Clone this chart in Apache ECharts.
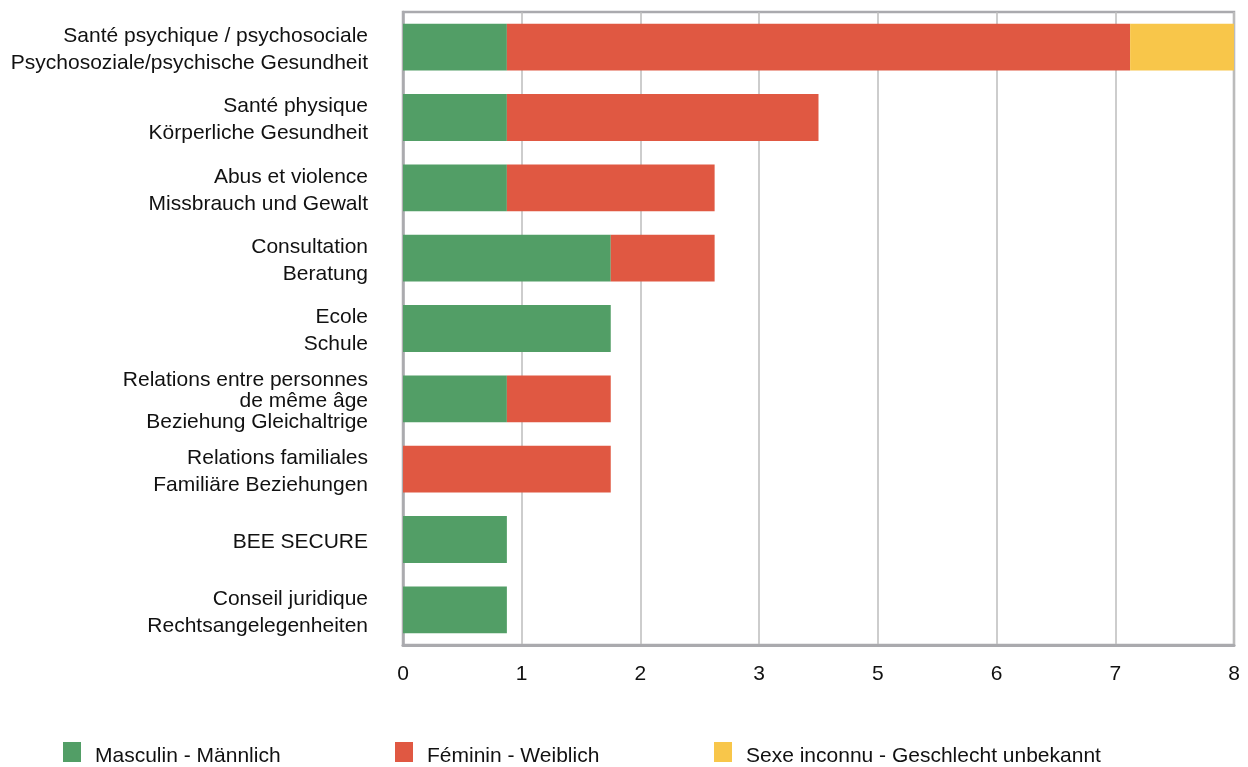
<!DOCTYPE html>
<html>
<head>
<meta charset="utf-8">
<script src="https://cdn.jsdelivr.net/npm/echarts@6/dist/echarts.min.js"></script>
<style>
  html, body { margin: 0; padding: 0; background: #fff; }
  #chart { width: 1248px; height: 767px; }
</style>
</head>
<body>
<div id="chart"></div>
<script>
// Topics (French / German), top to bottom
const categories = [
  ['Santé psychique / psychosociale', 'Psychosoziale/psychische Gesundheit'],
  ['Santé physique', 'Körperliche Gesundheit'],
  ['Abus et violence', 'Missbrauch und Gewalt'],
  ['Consultation', 'Beratung'],
  ['Ecole', 'Schule'],
  ['Relations entre personnes', 'de même âge', 'Beziehung Gleichaltrige'],
  ['Relations familiales', 'Familiäre Beziehungen'],
  ['BEE SECURE'],
  ['Conseil juridique', 'Rechtsangelegenheiten']
];

const seriesNames = ['Masculin - Männlich', 'Féminin - Weiblich', 'Sexe inconnu - Geschlecht unbekannt'];
const male    = [1, 1, 1, 2, 2, 1, 0, 1, 1];
const female  = [6, 3, 2, 1, 0, 1, 2, 0, 0];
const unknown = [1, 0, 0, 0, 0, 0, 0, 0, 0];

const axisMax = 8;
const axisSplits = 7;

const colors = ['#529e66', '#e05842', '#f8c64a'];
const FONT = '"Liberation Sans", Arial, Helvetica, sans-serif';
const FS = 21;

const catKeys = categories.map((c, i) => 'c' + i);
const catLookup = {};
categories.forEach((c, i) => { catLookup[catKeys[i]] = c; });

const chart = echarts.init(document.getElementById('chart'), null, { renderer: 'canvas' });

function makeSeries(name, data, color) {
  return {
    name: name,
    type: 'bar',
    stack: 'total',
    barWidth: '66.5%',
    itemStyle: { color: color },
    emphasis: { disabled: true },
    data: data
  };
}

function makeLegend(idx, left) {
  return {
    data: [seriesNames[idx]],
    left: left,
    top: 737,
    itemWidth: 18,
    itemHeight: 20,
    itemGap: 0,
    icon: 'rect',
    selectedMode: false,
    formatter: name => '{t|' + name + '}',
    textStyle: {
      fontFamily: FONT, fontSize: FS, color: '#111', padding: [0, 0, 0, 9],
      rich: { t: { fontFamily: FONT, fontSize: FS, color: '#111', padding: [9, 0, 0, 0] } }
    }
  };
}

chart.setOption({
  animation: false,
  backgroundColor: '#fff',
  grid: {
    left: 403, right: 14, top: 12, bottom: 122,
    show: true, borderColor: '#aaaaae', borderWidth: 2.5,
    containLabel: false
  },
  legend: [
    makeLegend(0, 58),
    makeLegend(1, 390),
    makeLegend(2, 709)
  ],
  xAxis: {
    type: 'value',
    min: 0,
    max: axisMax,
    interval: axisMax / axisSplits,
    axisLine: { show: true, lineStyle: { color: '#aaaaae', width: 3 } },
    axisTick: { show: false },
    splitLine: { show: true, lineStyle: { color: '#bdbdbd', width: 1.5 } },
    axisLabel: {
      margin: 19,
      fontFamily: FONT,
      fontSize: FS,
      color: '#111',
      formatter: v => String(Math.round(v))
    }
  },
  yAxis: {
    type: 'category',
    inverse: true,
    data: catKeys,
    axisLine: { show: true, lineStyle: { color: '#aaaaae', width: 2.5 } },
    axisTick: { show: false },
    splitLine: { show: false },
    axisLabel: {
      margin: 35,
      padding: [5, 0, 0, 0],
      fontFamily: FONT,
      fontSize: FS,
      color: '#111',
      align: 'right',
      formatter: key => {
        const lines = catLookup[key];
        const style = lines.length > 2 ? 'n' : 'w';
        return lines.map(l => '{' + style + '|' + l + '}').join('\n');
      },
      rich: {
        w: { fontFamily: FONT, fontSize: FS, color: '#111', lineHeight: 27, align: 'right' },
        n: { fontFamily: FONT, fontSize: FS, color: '#111', lineHeight: 21, align: 'right' }
      }
    }
  },
  series: [
    makeSeries(seriesNames[0], male, colors[0]),
    makeSeries(seriesNames[1], female, colors[1]),
    makeSeries(seriesNames[2], unknown, colors[2])
  ]
});
</script>
</body>
</html>
